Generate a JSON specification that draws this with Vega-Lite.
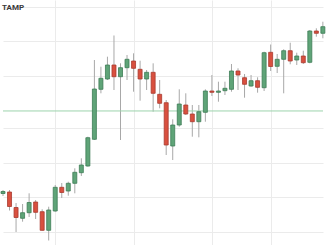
{
  "$schema": "https://vega.github.io/schema/vega-lite/v6.json",
  "width": 326,
  "height": 245,
  "autosize": {"type": "fit", "contains": "padding"},
  "padding": 0,
  "background": "white",
  "config": {"view": {"stroke": null}},
  "title": {"text": "TAMP", "anchor": "start", "frame": "group", "offset": -12, "fontSize": 8, "fontWeight": "bold", "color": "#3a3a3a", "font": "Roboto", "dx": -1},
  "datasets": {
    "candles": [
      {"i": 0, "open": 6222.2, "close": 6233.7, "high": 6242.4, "low": 6207.8},
      {"i": 1, "open": 6230.8, "close": 6147.3, "high": 6242.4, "low": 6124.2},
      {"i": 2, "open": 6141.5, "close": 6083.9, "high": 6167.4, "low": 6000.3},
      {"i": 3, "open": 6079.3, "close": 6111.5, "high": 6161.7, "low": 6059.7},
      {"i": 4, "open": 6111.5, "close": 6170.3, "high": 6223.3, "low": 6086.7},
      {"i": 5, "open": 6173.2, "close": 6113.8, "high": 6184.7, "low": 6075.2},
      {"i": 6, "open": 6117.3, "close": 6010.1, "high": 6131.1, "low": 6007.8},
      {"i": 7, "open": 6010.1, "close": 6127.1, "high": 6146.1, "low": 5951.3},
      {"i": 8, "open": 6121.3, "close": 6257.9, "high": 6271.2, "low": 6117.3},
      {"i": 9, "open": 6257.9, "close": 6228.0, "high": 6282.7, "low": 6196.3},
      {"i": 10, "open": 6236.6, "close": 6281.0, "high": 6290.2, "low": 6209.5},
      {"i": 11, "open": 6281.0, "close": 6344.4, "high": 6367.4, "low": 6223.3},
      {"i": 12, "open": 6342.1, "close": 6386.5, "high": 6425.1, "low": 6323.1},
      {"i": 13, "open": 6380.7, "close": 6543.8, "high": 6549.6, "low": 6376.7},
      {"i": 14, "open": 6534.6, "close": 6824.5, "high": 6991.6, "low": 6530.5},
      {"i": 15, "open": 6822.8, "close": 6886.2, "high": 6953.0, "low": 6799.7},
      {"i": 16, "open": 6882.1, "close": 6962.8, "high": 7010.7, "low": 6876.4},
      {"i": 17, "open": 6962.8, "close": 6895.4, "high": 7132.9, "low": 6818.7},
      {"i": 18, "open": 6895.4, "close": 6947.3, "high": 6972.6, "low": 6530.5},
      {"i": 19, "open": 6947.3, "close": 6995.7, "high": 7020.5, "low": 6876.4},
      {"i": 20, "open": 6985.9, "close": 6943.8, "high": 7030.3, "low": 6808.9},
      {"i": 21, "open": 6938.0, "close": 6882.1, "high": 6987.6, "low": 6757.1},
      {"i": 22, "open": 6882.1, "close": 6920.7, "high": 6934.0, "low": 6818.7},
      {"i": 23, "open": 6920.7, "close": 6799.7, "high": 6972.6, "low": 6693.7},
      {"i": 24, "open": 6793.9, "close": 6742.1, "high": 6876.4, "low": 6713.3},
      {"i": 25, "open": 6745.5, "close": 6501.7, "high": 6761.1, "low": 6444.1},
      {"i": 26, "open": 6496.0, "close": 6617.0, "high": 6649.9, "low": 6415.3},
      {"i": 27, "open": 6617.0, "close": 6738.0, "high": 6822.8, "low": 6607.2},
      {"i": 28, "open": 6732.3, "close": 6680.4, "high": 6799.7, "low": 6674.6},
      {"i": 29, "open": 6680.4, "close": 6636.0, "high": 6732.3, "low": 6549.6},
      {"i": 30, "open": 6636.0, "close": 6693.7, "high": 6732.3, "low": 6546.1},
      {"i": 31, "open": 6690.2, "close": 6813.0, "high": 6822.8, "low": 6636.0},
      {"i": 32, "open": 6813.0, "close": 6805.5, "high": 6905.2, "low": 6784.2},
      {"i": 33, "open": 6805.5, "close": 6813.0, "high": 6866.6, "low": 6751.3},
      {"i": 34, "open": 6814.7, "close": 6828.5, "high": 6866.6, "low": 6789.9},
      {"i": 35, "open": 6822.8, "close": 6928.3, "high": 6968.6, "low": 6808.9},
      {"i": 36, "open": 6928.3, "close": 6905.2, "high": 6943.8, "low": 6818.7},
      {"i": 37, "open": 6889.6, "close": 6851.6, "high": 6911.0, "low": 6774.4},
      {"i": 38, "open": 6841.8, "close": 6872.3, "high": 6905.2, "low": 6837.7},
      {"i": 39, "open": 6872.3, "close": 6834.3, "high": 6891.9, "low": 6803.2},
      {"i": 40, "open": 6832.0, "close": 7033.7, "high": 7039.5, "low": 6813.0},
      {"i": 41, "open": 7036.0, "close": 6954.2, "high": 7081.0, "low": 6928.3},
      {"i": 42, "open": 6955.3, "close": 6995.7, "high": 7026.2, "low": 6916.7},
      {"i": 43, "open": 6995.7, "close": 7045.2, "high": 7053.3, "low": 6799.7},
      {"i": 44, "open": 7045.2, "close": 6985.9, "high": 7091.4, "low": 6966.9},
      {"i": 45, "open": 6991.6, "close": 7014.7, "high": 7033.7, "low": 6962.8},
      {"i": 46, "open": 7014.7, "close": 6976.1, "high": 7045.2, "low": 6968.6},
      {"i": 47, "open": 6978.4, "close": 7158.8, "high": 7164.6, "low": 6972.6},
      {"i": 48, "open": 7158.8, "close": 7145.6, "high": 7174.4, "low": 7126.0},
      {"i": 49, "open": 7145.6, "close": 7183.6, "high": 7212.4, "low": 7116.7}
    ],
    "level": [{"price": 6698}]
  },
  "layer": [
    {
      "data": {"name": "candles"},
      "mark": {"type": "rule", "color": "#a8a8a8", "strokeWidth": 1},
      "encoding": {
        "x": {"field": "i", "type": "quantitative", "scale": {"domain": [0, 49.02], "nice": false, "zero": false, "padding": 0},
              "axis": {"values": [8, 20, 32, 41], "labels": false, "ticks": false, "domain": false, "title": null, "grid": true, "gridColor": "#ebebeb"}},
        "y": {"field": "low", "type": "quantitative", "scale": {"domain": [5925.4, 7337.5], "nice": false, "zero": false, "padding": 0},
              "axis": {"values": [6000, 6100, 6200, 6300, 6400, 6500, 6600, 7800, 6800, 6900, 7000, 7100, 7200, 7300], "labels": false, "ticks": false, "domain": false, "title": null, "grid": true, "gridColor": "#ebebeb"}},
        "y2": {"field": "high"}
      }
    },
    {
      "data": {"name": "level"},
      "mark": {"type": "rule", "color": "#9dd4ac", "strokeWidth": 1},
      "encoding": {
        "y": {"field": "price", "type": "quantitative"}
      }
    },
    {
      "data": {"name": "candles"},
      "mark": {"type": "bar", "size": 4, "strokeWidth": 0.8},
      "encoding": {
        "x": {"field": "i", "type": "quantitative"},
        "y": {"field": "open", "type": "quantitative"},
        "y2": {"field": "close"},
        "fill": {"condition": {"test": "datum.close >= datum.open", "value": "#5fa478"}, "value": "#d9503f"},
        "stroke": {"condition": {"test": "datum.close >= datum.open", "value": "#3e7c55"}, "value": "#a83a2e"}
      }
    }
  ]
}
